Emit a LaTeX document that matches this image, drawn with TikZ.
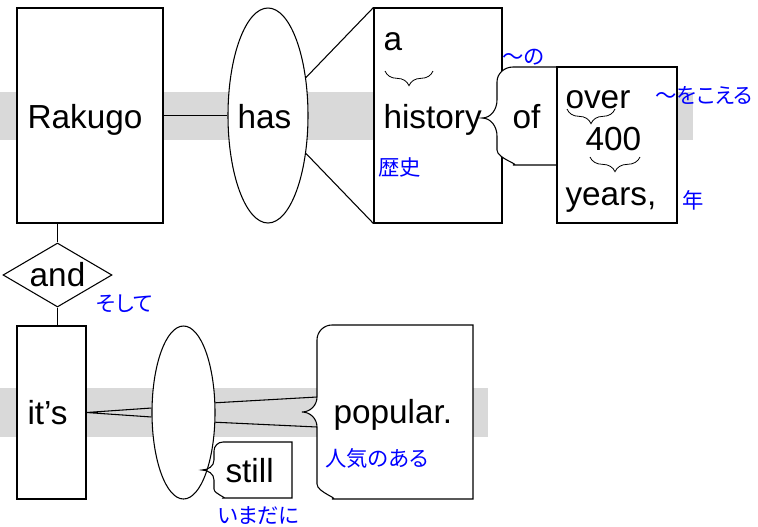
\documentclass[tikz,border=0pt]{standalone}
\usepackage{fontspec}
\setmainfont{Liberation Sans}
\newfontfamily\jpfont[RawFeature=+palt]{Noto Sans CJK JP}
\usetikzlibrary{shapes.geometric,decorations.pathreplacing}

\begin{document}
\begin{tikzpicture}[x=0.75pt,y=-0.75pt,line width=0.8pt,
    word/.style={font=\fontsize{25}{30}\selectfont,inner sep=0pt,anchor=base west},
    gloss/.style={font=\jpfont\fontsize{16}{19}\selectfont,text=blue,inner sep=0pt,anchor=west},
    box/.style={draw,fill=white,rectangle,inner sep=0pt},
    slot/.style={draw,fill=white,ellipse,inner sep=0pt},
    ubrace/.style={decorate,decoration={brace,amplitude=11pt},line width=0.6pt}]

  \useasboundingbox (0,0) rectangle (758,526);

  % gray bands
  \fill[black!15] (0,92) rectangle (693,140);
  \fill[black!15] (0,388) rectangle (488,437);

  % upper clause
  \node[box,minimum width=109.5pt,minimum height=161.25pt] (rakugo) at (90,115.5) {};
  \node[slot,minimum width=60pt,minimum height=161.25pt] (has) at (268,115.5) {};
  \node[box,minimum width=96pt,minimum height=161.25pt] (history) at (438,115.5) {};
  \draw[fill=white] (557,67) -- (513,67) to[out=180,in=90] (497,82) -- (497,100)
    to[out=-90,in=0] (482,118) coordinate (of-tip) to[out=0,in=90] (497,136)
    -- (497,150) to[out=-90,in=0] (513,165) -- (557,165);
  \node[box,minimum width=90pt,minimum height=117pt] (over) at (617,145) {};

  \draw (rakugo) -- (has);
  \draw (has.45) -- (history.north west);
  \draw (has.-45) -- (history.south west);

  \node[word] (w-rakugo) at (27,128) {Rakugo};
  \node[word] (w-has) at (237,128) {has};
  \node[word] (w-a) at (383,50) {a};
  \node[word] (w-history) at (383,128) {history};
  \node[word] (w-of) at (512,128) {of};
  \node[word] (w-over) at (565,108) {over};
  \node[word] (w-400) at (585,150) {400};
  \node[word] (w-years) at (565,205) {years,};
  \draw[ubrace] (433,71) -- (385,71);
  \draw[ubrace] (615,109) -- (567,109);
  \draw[ubrace] (640,157) -- (590,157);

  \node[gloss] (g-rekishi) at (378,167) {歴史};
  \node[gloss] (g-no) at (502,57) {〜の};
  \node[gloss] (g-koeru) at (655,95) {〜をこえる};
  \node[gloss] (g-nen) at (682,200) {年};

  % conjunction
  \node[draw,fill=white,diamond,aspect=1.7,inner sep=0pt,minimum width=81.75pt,
        minimum height=48pt,font=\fontsize{25}{30}\selectfont] (and) at (57.5,275) {and};
  \draw (and.north) -- (and.north |- rakugo.south);
  \node[gloss] (g-soshite) at (96,304) {そして};

  % lower clause
  \node[box,minimum width=51.75pt,minimum height=129.75pt] (its) at (51.5,412.5) {};
  \draw (and.south) -- (and.south |- its.north);
  \node[slot,minimum width=47.25pt,minimum height=129.75pt] (verb) at (183.5,412.5) {};
  \draw[fill=white] (473,325) -- (332,325) to[out=180,in=90] (317,340)
    -- (317,397) coordinate (pop-top) to[out=-90,in=0] (302,412) coordinate (pop-tip)
    to[out=0,in=90] (317,427) coordinate (pop-bot) -- (317,484)
    to[out=-90,in=0] (332,499) -- (473,499) -- cycle;
  \draw (292,442) -- (223,442) to[out=180,in=90] (214,451) -- (214,460)
    to[out=-90,in=0] (202,470) coordinate (still-tip) to[out=0,in=90] (214,480)
    -- (214,489) to[out=-90,in=0] (223,498) -- (292,498) -- cycle;

  \draw (verb.172) -- (its.east) -- (verb.188);
  \draw (verb.17) -- (pop-top);
  \draw (verb.-17) -- (pop-bot);

  \node[word] (w-its) at (27,424) {it’s};
  \node[word] (w-popular) at (333,423) {popular.};
  \node[word] (w-still) at (225,482) {still};

  \node[gloss] (g-ninki) at (325,458) {人気のある};
  \node[gloss] (g-imadani) at (217,516) {いまだに};
\end{tikzpicture}
\end{document}
